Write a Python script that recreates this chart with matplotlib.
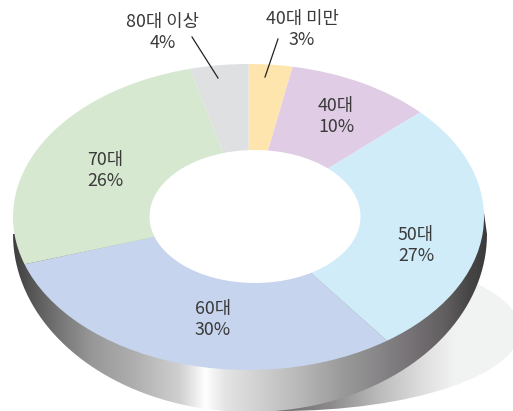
import numpy as np
import matplotlib
matplotlib.use("Agg")
import matplotlib.pyplot as plt
from matplotlib.patches import Ellipse, PathPatch
from matplotlib.path import Path
from matplotlib.colors import LinearSegmentedColormap

plt.rcParams['font.family'] = ['Noto Sans CJK KR', 'DejaVu Sans']

categories = ['40대 미만', '40대', '50대', '60대', '70대', '80대 이상']
values = [3, 10, 27, 30, 26, 4]
colors = ['#fee5ae', '#e0cde5', '#d0ecf9', '#c6d4ee', '#d7e8d0', '#dfe0e2']
label_xy = [(302, 29.5), (336, 116.5), (416, 245), (213, 319.5), (105, 170.5), (163, 32)]

W, H = 513, 411
CX, CY, RX, RY = 248.5, 217, 235.5, 153

fig = plt.figure(figsize=(W / 100, H / 100), dpi=100, facecolor='white')

bg = fig.add_axes([0, 0, 1, 1])
bg.set_xlim(0, W); bg.set_ylim(H, 0); bg.axis('off')


def ramp(x0, x1, stops):
    return LinearSegmentedColormap.from_list(
        'r', [((x - x0) / (x1 - x0), c) for x, c in stops])


shadow_cm = ramp(270, 513, [(270, '#6c686b'), (330, '#8c8a8b'), (380, '#bcbcbc'), (420, '#dcdcdc'),
                            (455, '#f1f3f2'), (513, '#f1f3f2')])
im = bg.imshow(np.linspace(0, 1, 256)[None, :], extent=(270, 513, H, 240), cmap=shadow_cm, aspect='auto', zorder=1)
shadow = Ellipse((280, 330), 480, 162, transform=bg.transData, fc='none', ec='none')
bg.add_patch(shadow)
im.set_clip_path(shadow)

side_cm = ramp(13, 487, [(13, '#3e3e3e'), (30, '#555555'), (60, '#777777'), (93, '#999999'), (130, '#acacac'),
                         (180, '#d0d0d0'), (200, '#f5f5f5'), (205, '#ffffff'), (225, '#e4e4e4'), (260, '#d0d0d0'),
                         (300, '#b8b8b8'), (340, '#9c9c9c'), (380, '#878587'), (410, '#777377'), (445, '#625f60'),
                         (470, '#474646'), (487, '#3c3b3b')])
im2 = bg.imshow(np.linspace(0, 1, 512)[None, :], extent=(13, 487, H, 200), cmap=side_cm, aspect='auto', zorder=2)
bg.set_xlim(0, W); bg.set_ylim(H, 0)
t = np.linspace(0, np.pi, 181)
arc = np.c_[250 + 237 * np.cos(t), 234 + 178 * np.sin(t)]
verts = np.r_[arc, [[248, 217], [484, 213], [487, 234]]]
side = PathPatch(Path(verts), transform=bg.transData, fc='none', ec='none')
bg.add_patch(side)
im2.set_clip_path(side)

ax = fig.add_axes([(CX - RX) / W, 1 - (CY + RY) / H, 2 * RX / W, 2 * RY / H])
ax.pie(values, colors=colors, startangle=90, counterclock=False, radius=1, center=(0, 0),
       wedgeprops=dict(linewidth=0))
ax.set_aspect('auto')
ax.set_xlim(-1, 1); ax.set_ylim(-1, 1)
ax.patch.set_alpha(0)

fg = fig.add_axes([0, 0, 1, 1])
fg.set_xlim(0, W); fg.set_ylim(H, 0); fg.axis('off'); fg.patch.set_alpha(0)
fg.add_patch(Ellipse((255, 216.5), 211, 133, fc='white', ec='none'))
for name, val, (x, y) in zip(categories, values, label_xy):
    for s, yy in ((name, y - 10.5), (f'{val}%', y + 10.5)):
        fg.text(x, yy, s, ha='center', va='center', fontsize=12.8, fontweight='light', color='#3a3a3a')
fg.plot([192, 218], [37, 78], color='#222222', lw=0.9)
fg.plot([278, 265], [39, 77], color='#222222', lw=0.9)

fig.savefig('out.png', dpi=100)
